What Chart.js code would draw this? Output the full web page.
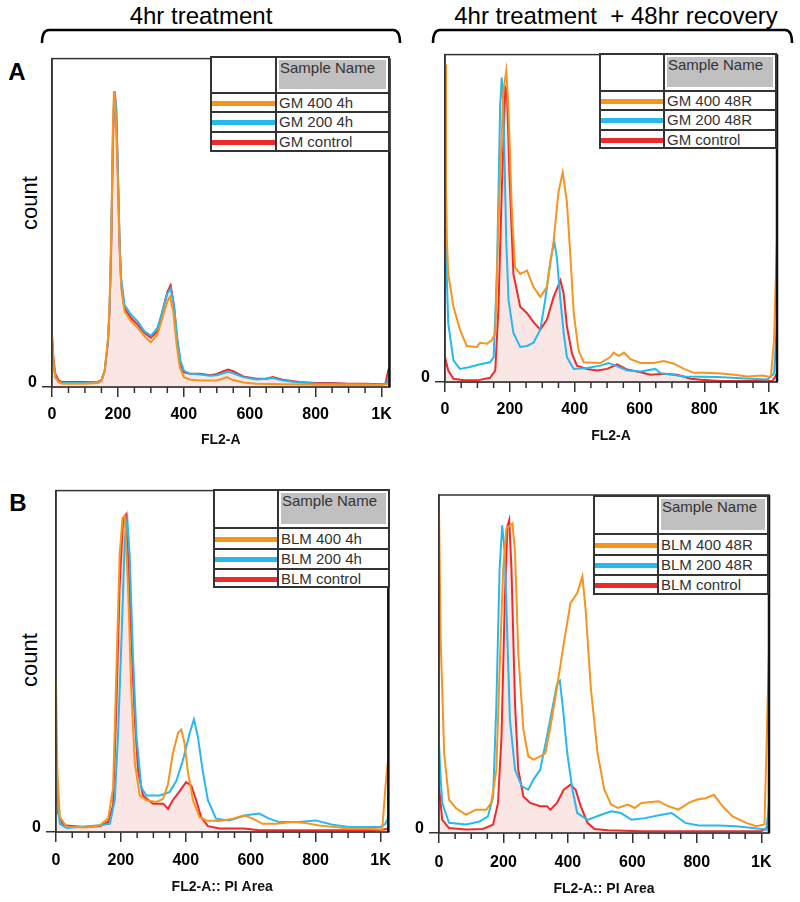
<!DOCTYPE html>
<html><head><meta charset="utf-8">
<script src="https://cdn.jsdelivr.net/npm/chart.js@4.4.1/dist/chart.umd.min.js"></script>
<style>
body{margin:0;width:800px;height:902px;background:#fff;position:relative;overflow:hidden;font-family:"Liberation Sans",Arial,sans-serif;}
canvas{position:absolute;}
.t{position:absolute;white-space:nowrap;color:#000;line-height:1;}
.lg{position:absolute;box-sizing:border-box;background:#fff;border:2px solid #333;}
.lg div{position:absolute;}
</style>
</head><body>
<svg width="800" height="60" style="position:absolute;left:0;top:0">
  <path d="M42,43 Q42,30 49,30 L393,30 Q400,30 400,43" fill="none" stroke="#000" stroke-width="2.5"/>
  <path d="M433,43 Q433,30 440,30 L785,30 Q792,30 792,43" fill="none" stroke="#000" stroke-width="2.5"/>
</svg>
<div class="t" style="left:201px;top:16px;transform:translate(-50%,-50%);font-size:24px;">4hr treatment</div>
<div class="t" style="left:616px;top:16px;transform:translate(-50%,-50%);font-size:24px;">4hr treatment&nbsp; + 48hr recovery</div>
<div class="t" style="left:17px;top:72px;transform:translate(-50%,-50%);font-size:24px;font-weight:bold;">A</div>
<div class="t" style="left:18px;top:503px;transform:translate(-50%,-50%);font-size:24px;font-weight:bold;">B</div>
<div class="t" style="left:30px;top:203px;transform:translate(-50%,-50%) rotate(-90deg);font-size:22px;">count</div>
<div class="t" style="left:30px;top:660px;transform:translate(-50%,-50%) rotate(-90deg);font-size:22px;">count</div>
<script>
// ---------- data: [channel, relative count] ----------
const xTickValues = [0, 200, 400, 600, 800, 1000];
const xTickLabels = ['0', '200', '400', '600', '800', '1K'];
const xMinorValues = [50,100,150,250,300,350,450,500,550,650,700,750,850,900,950];

const legendA4h = ['GM 400 4h', 'GM 200 4h', 'GM control'];
const legendA48 = ['GM 400 48R', 'GM 200 48R', 'GM control'];
const legendB4h = ['BLM 400 4h', 'BLM 200 4h', 'BLM control'];
const legendB48 = ['BLM 400 48R', 'BLM 200 48R', 'BLM control'];

const gm400_4h = [[0,16],[4,8],[10,3],[20,1.5],[30,1],[60,1],[100,1],[140,1.2],[150,1.8],[160,5],[170,15],[175,26],[180,48],[185,80],[188,90],[193,84],[200,62],[205,42],[210,30],[220,23],[240,20],[260,18],[280,15.5],[300,13.6],[320,16],[335,21],[350,26],[358,27.5],[368,23],[378,13],[388,6],[400,3],[420,2.2],[450,2],[500,2],[520,2.6],[530,3],[545,2.3],[580,1.4],[620,1],[700,0.8],[800,0.7],[900,0.6],[1000,0.6],[1015,0.8],[1024,1.5]];
const gm200_4h = [[0,12],[4,7],[10,3],[20,1.5],[30,1.2],[60,1.2],[100,1.3],[140,1.5],[150,2],[160,5],[170,14],[175,25],[180,46],[185,78],[189,90],[194,86],[200,66],[205,45],[210,33],[220,25],[240,22],[260,20],[280,17],[300,15.6],[320,18],[335,23],[350,28.5],[360,30],[370,25],[380,15],[390,8],[400,5],[420,4],[450,3.8],[480,3.4],[500,3.6],[520,4.2],[535,4.6],[550,4.2],[580,3],[620,2.3],[650,2.5],[670,2.7],[700,2],[750,1.4],[800,1.1],[850,1],[900,0.9],[950,0.8],[1000,0.7],[1015,0.9],[1024,4]];
const gmCtrl_4h = [[0,16],[4,9],[10,4],[20,2],[30,1.5],[60,1.5],[100,1.5],[140,1.6],[150,2],[160,5],[170,14],[175,24],[180,44],[185,75],[190,90],[195,85],[200,65],[205,44],[210,32],[220,24],[240,21],[260,19],[280,16.5],[300,15],[320,17],[335,23],[350,29],[360,31],[370,25],[380,14],[390,7],[400,4.5],[420,4],[450,4],[480,3.6],[500,4],[520,4.8],[535,5.3],[550,4.8],[580,3.2],[620,2.5],[650,2.5],[670,3],[700,2.2],[750,1.5],[800,1.2],[850,1.2],[900,1],[950,1],[1000,0.8],[1012,1],[1020,5],[1024,6]];

const gm400_48 = [[0,97],[3,60],[6,43],[10,33],[26,23],[46,16],[67,11],[98,10.7],[108,12],[129,11.7],[144,12.7],[155,14.7],[160,33],[170,63],[180,89],[189,95],[196,83],[206,53],[216,35],[232,33],[253,34],[273,29],[294,26],[314,29],[335,43],[350,58],[363,64],[376,55],[387,38],[397,21],[412,9.6],[428,6],[479,5.8],[510,7.6],[520,9],[536,8],[552,9],[572,7],[603,5.8],[644,5.8],[675,6.4],[706,5.6],[737,4],[768,2.8],[809,2.8],[861,2.5],[892,2.2],[933,1.7],[977,2],[1005,1.5],[1015,13],[1024,44]];
const gm200_48 = [[0,53],[3,40],[10,18],[26,6.6],[46,4],[77,4.6],[108,5.4],[139,6],[150,7.6],[160,33],[165,58],[170,84],[175,93],[180,84],[189,43],[196,25],[211,15],[232,10.7],[253,11],[273,12],[294,16],[309,25],[325,37],[337,43],[345,38],[356,25],[366,15],[376,7.6],[397,4],[438,4.3],[479,5],[505,5.8],[526,5],[562,3.5],[603,3.2],[649,4],[665,2.7],[737,1.7],[840,1.5],[943,1],[995,0.8],[1015,2.5],[1024,18]];
const gmCtrl_48 = [[0,7.6],[10,3.5],[26,1],[60,0.5],[100,0.5],[139,1.3],[155,3.5],[165,23],[175,58],[186,90],[191,89],[199,63],[211,33],[232,23],[253,21],[273,18.3],[294,16],[314,19],[335,26],[356,31],[366,27],[376,17],[392,8.6],[407,5],[438,4],[469,3.5],[500,4],[531,5.4],[562,3.8],[603,3],[634,2.2],[675,2.5],[716,2.2],[758,1],[789,0.7],[850,0.3],[950,0.3],[1010,0.3],[1024,2.5]];

const blm400_4h = [[0,44],[4,18],[12,4.4],[33,1.5],[94,1.3],[135,2],[161,4],[176,13],[186,47],[196,81],[205,92],[212,92.5],[222,72],[232,41],[243,20],[258,10.7],[278,9.3],[309,8.8],[330,9.7],[345,14],[360,23],[376,29],[386,30],[396,26],[406,18],[422,9.3],[442,4.4],[463,3.4],[504,3.2],[545,3.9],[580,4.9],[606,3.9],[637,2.4],[678,2.4],[729,2.9],[770,2.6],[811,1.9],[852,1.5],[903,1],[954,1],[1005,0.7],[1015,13],[1024,22]];
const blm200_4h = [[0,18],[5,8],[12,2.4],[33,1.2],[135,2],[166,2.4],[181,9.3],[191,28],[202,57],[212,86],[220,91.5],[227,81],[237,52],[248,28],[263,13],[278,10.7],[319,10.7],[350,11.7],[371,15],[391,21],[412,29],[425,33],[437,28],[452,18],[468,9.3],[493,3.9],[534,3.4],[585,4.9],[626,5.4],[657,3.9],[688,2.9],[749,2.9],[800,3.4],[852,2.1],[903,1.5],[954,1.5],[1000,1.5],[1015,2.4],[1024,4.4]];
const blmCtrl_4h = [[0,13],[7,5.4],[22,2],[84,1.5],[135,1.7],[161,3],[176,8],[186,37],[196,72],[207,92],[215,93],[222,81],[232,57],[243,33],[253,18],[268,10.7],[299,8.3],[330,8.3],[345,6.8],[360,9.3],[381,12],[401,14.6],[417,13.6],[432,9.3],[447,4.4],[468,1.7],[504,1],[580,1],[626,0.5],[800,0.5],[1000,0.5],[1024,1]];

const blm400_48 = [[0,96],[5,58],[16,23.6],[31,9.9],[52,7.4],[84,5.4],[115,6.9],[147,6.9],[162,8.9],[178,18.7],[188,48],[199,78],[209,90],[220,91],[228,91.6],[236,83],[246,53],[262,30.5],[277,22.7],[293,21.7],[314,22.7],[330,23.6],[346,31.5],[366,43],[387,56],[408,68],[429,71],[445,76],[455,66],[471,43],[492,23.6],[513,12.8],[534,8.4],[555,7.4],[586,8.4],[607,7.4],[628,8.9],[681,9.4],[712,7.9],[743,6.9],[775,8.9],[801,9.9],[827,10.3],[853,11.3],[880,7.9],[911,4.9],[953,3],[984,2],[1010,2.5],[1024,54]];
const blm200_48 = [[0,26.6],[4,18],[10,8.9],[31,3],[84,2.5],[126,3.4],[152,4.9],[168,10.8],[178,38],[188,78],[196,91],[204,83],[212,58],[220,33.5],[236,18.7],[257,13.8],[277,12.8],[293,15.8],[314,18.7],[335,28.6],[351,36.5],[366,44],[375,45],[385,36.5],[398,23.6],[414,12.8],[429,5.9],[461,3.9],[503,5.4],[534,6.4],[565,5.9],[597,3.9],[639,4.4],[691,5.4],[722,5.9],[764,3],[806,2.2],[869,2.2],[921,2],[974,1.5],[1016,1],[1024,8.9]];
const blmCtrl_48 = [[0,13.8],[10,3.9],[31,1.5],[84,1],[136,1.2],[168,2.5],[183,8.9],[194,28.6],[204,68],[212,90.6],[218,92.6],[225,77.8],[236,38],[246,18.7],[262,10.8],[283,8.9],[314,7.9],[335,7.9],[346,6.9],[366,8.9],[387,12.8],[408,14.3],[424,12.8],[440,7.9],[461,3],[482,1.2],[524,0.8],[628,0.5],[800,0.5],[1000,0.5],[1024,2]];

// ---------- styling ----------
const ORANGE = '#f7941e', CYAN = '#27b8ee', RED = '#ee2b2b', PINK = 'rgba(250,222,222,0.75)';
const FONT = '"Liberation Sans", Arial, sans-serif';

const panels = [
  {canvas:[0,44,400,410], pad:[12,12,10], wy:40, hx:67, titlePad:5, tickPad:8, xTitle:'FL2-A',
   series:[gm400_4h, gm200_4h, gmCtrl_4h], legend:legendA4h,
   lg:{l:210,r:390,t:56,col:275,rows:[93,112,132,152]}},
  {canvas:[400,40,400,410], pad:[5,13,23], wy:40, hx:68, titlePad:5, tickPad:8, xTitle:'FL2-A',
   series:[gm400_48, gm200_48, gmCtrl_48], legend:legendA48,
   lg:{l:599,r:777,t:53,col:663,rows:[91,110,130,149]}},
  {canvas:[0,476,400,426], pad:[16,13,10], wy:40, hx:70, titlePad:6, tickPad:9, xTitle:'FL2-A:: PI Area',
   series:[blm400_4h, blm200_4h, blmCtrl_4h], legend:legendB4h,
   lg:{l:213,r:390,t:489,col:277,rows:[528,549,569,588]}},
  {canvas:[400,476,400,426], pad:[3,19,31], wy:36, hx:69, titlePad:4, tickPad:10, xTitle:'FL2-A:: PI Area',
   series:[blm400_48, blm200_48, blmCtrl_48], legend:legendB48,
   lg:{l:593,r:769,t:495,col:657,rows:[534,555,575,595]}}
];

const framePlugin = {
  id: 'frame',
  afterDraw(chart) {
    const {ctx, chartArea: a, scales: {x}} = chart;
    ctx.save();
    ctx.strokeStyle = '#333';
    ctx.lineWidth = 1.5;
    ctx.beginPath();
    xMinorValues.forEach(v => {
      const px = x.getPixelForValue(v);
      ctx.moveTo(px, a.bottom); ctx.lineTo(px, a.bottom + 6);
    });
    ctx.stroke();
    ctx.strokeRect(a.left, a.top, a.right - a.left, a.bottom - a.top);
    ctx.strokeStyle = '#111';
    ctx.lineWidth = 2.5;
    ctx.beginPath();
    ctx.moveTo(a.right, a.top); ctx.lineTo(a.right, a.bottom);
    ctx.stroke();
    ctx.restore();
  }
};

panels.forEach(p => {
  const cv = document.createElement('canvas');
  const [cl, ct, cw, ch] = p.canvas;
  cv.width = cw; cv.height = ch;
  cv.style.left = cl + 'px'; cv.style.top = ct + 'px';
  cv.style.width = cw + 'px'; cv.style.height = ch + 'px';
  document.body.appendChild(cv);
  const colors = [ORANGE, CYAN, RED];
  new Chart(cv, {
    type: 'line',
    data: {
      datasets: p.series.map((s, i) => ({
        label: p.legend[i],
        data: s,
        borderColor: colors[i],
        borderWidth: 2,
        pointRadius: 0,
        tension: 0,
        fill: i === 2 ? 'origin' : false,
        backgroundColor: i === 2 ? PINK : 'transparent',
        order: i
      }))
    },
    options: {
      responsive: false, animation: false, devicePixelRatio: 1,
      layout: {padding: {left: p.pad[0], top: p.pad[1], right: p.pad[2], bottom: 0}},
      plugins: {legend: {display: false}, tooltip: {enabled: false}},
      scales: {
        x: {
          type: 'linear', min: 0, max: 1024,
          afterBuildTicks: s => { s.ticks = xTickValues.map(v => ({value: v})); },
          afterFit: s => { s.height = p.hx; },
          ticks: {
            callback: (v) => xTickLabels[xTickValues.indexOf(v)],
            font: {family: FONT, size: 16, weight: 'bold'}, color: '#000',
            padding: p.tickPad, maxRotation: 0, autoSkip: false
          },
          grid: {drawOnChartArea: false, drawTicks: true, tickLength: 10, color: '#333', lineWidth: 1.5},
          border: {display: true, color: '#333', width: 1.5},
          title: {display: true, text: p.xTitle, color: '#111',
                  font: {family: FONT, size: 14, weight: 'bold'}, padding: {top: 0, bottom: p.titlePad}}
        },
        y: {
          min: 0, max: 100,
          afterBuildTicks: s => { s.ticks = [{value: 0}]; },
          afterFit: s => { s.width = p.wy; },
          ticks: {callback: () => '0', font: {family: FONT, size: 16, weight: 'bold'}, color: '#000',
                  padding: 5, labelOffset: -4},
          grid: {drawOnChartArea: false, drawTicks: true, tickLength: 10, color: '#333', lineWidth: 1.5},
          border: {display: true, color: '#333', width: 1.5}
        }
      }
    },
    plugins: [framePlugin]
  });

  // legend table
  const g = p.lg;
  const lg = document.createElement('div');
  lg.className = 'lg';
  lg.style.left = g.l + 'px'; lg.style.top = g.t + 'px';
  lg.style.width = (g.r - g.l) + 'px'; lg.style.height = (g.rows[3] - g.t) + 'px';
  const colX = g.col - g.l - 2;
  const inner = (g.r - g.l) - 4;
  let html = '';
  html += `<div style="left:${colX}px;top:0;width:2px;height:100%;background:#333"></div>`;
  html += `<div style="left:${colX + 4}px;top:2px;width:${inner - colX - 6}px;height:${g.rows[0] - g.t - 8}px;background:#c0c0c0"></div>`;
  html += `<div style="left:${colX + 5}px;top:1px;font-size:15px;color:#333;white-space:nowrap">Sample Name</div>`;
  for (let i = 0; i < 3; i++) {
    const top = g.rows[i] - g.t - 2;
    const h = g.rows[i + 1] - g.rows[i];
    html += `<div style="left:0;top:${top - 1}px;width:100%;height:2px;background:#333"></div>`;
    html += `<div style="left:0;top:${top + h / 2 - 2}px;width:${colX}px;height:5px;background:${colors[i]}"></div>`;
    html += `<div style="left:${colX + 4}px;top:${top + h / 2 - 8}px;font-size:15px;line-height:16px;color:#333;white-space:nowrap">${p.legend[i]}</div>`;
  }
  lg.innerHTML = html;
  document.body.appendChild(lg);
});
</script>
</body></html>
